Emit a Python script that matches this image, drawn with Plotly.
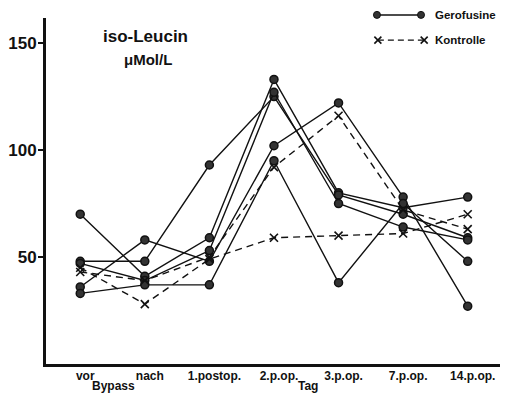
import plotly.graph_objects as go

categories = ["vor", "nach", "1.postop.", "2.p.op.", "3.p.op.", "7.p.op.", "14.p.op."]

# Gerofusine patients (solid lines, dots)
gero_1 = [70, 41, 59, 133, 80, 73, 78]
gero_2 = [48, 48, 93, 125, 79, 70, 59]
gero_3 = [47, 39, 53, 127, 75, 64, 58]
gero_4 = [36, 58, 48, 102, 122, 78, 27]
gero_5 = [33, 37, 37, 95, 38, 75, 48]

# Kontrolle patients (dashed lines, crosses)
kontr_1 = [45, 28, 49, 59, 60, 61, 70]
kontr_2 = [43, 39, 50, 92, 116, 72, 63]

y_ticks = [50, 100, 150]
y_tick_labels = [str(v) for v in y_ticks]

FONT = "Liberation Sans, Arial, sans-serif"
BLACK = "#111111"

fig = go.Figure()

for s in [gero_1, gero_2, gero_3, gero_4, gero_5]:
    fig.add_trace(go.Scatter(
        x=categories, y=s, mode="lines+markers",
        line=dict(color=BLACK, width=1.4),
        marker=dict(symbol="circle", size=8, color="#333333",
                    line=dict(color=BLACK, width=1.5)),
        showlegend=False, hoverinfo="skip"))

for s in [kontr_1, kontr_2]:
    fig.add_trace(go.Scatter(
        x=categories, y=s, mode="lines+markers",
        line=dict(color=BLACK, width=1.4, dash="7px,5px"),
        marker=dict(symbol="x-thin", size=8, color=BLACK,
                    line=dict(color=BLACK, width=1.6)),
        showlegend=False, hoverinfo="skip"))

shapes = []
# legend: Gerofusine sample
gy = 1.009
shapes.append(dict(type="line", xref="paper", yref="paper",
                   x0=0.729, x1=0.826, y0=gy, y1=gy,
                   line=dict(color=BLACK, width=1.5)))
for xa in (0.729, 0.826):
    shapes.append(dict(type="circle", xref="paper", yref="paper",
                       xsizemode="pixel", ysizemode="pixel",
                       xanchor=xa, yanchor=gy, x0=-3.5, x1=3.5, y0=-3.5, y1=3.5,
                       fillcolor="#333333", line=dict(color=BLACK, width=1)))
# legend: Kontrolle sample
ky = 0.936
shapes.append(dict(type="line", xref="paper", yref="paper",
                   x0=0.731, x1=0.833, y0=ky, y1=ky,
                   line=dict(color=BLACK, width=1.4, dash="6px,4px")))
for xa in (0.731, 0.833):
    for d in (1, -1):
        shapes.append(dict(type="line", xref="paper", yref="paper",
                           xsizemode="pixel", ysizemode="pixel",
                           xanchor=xa, yanchor=ky, x0=-3.5, x1=3.5,
                           y0=-3.5 * d, y1=3.5 * d,
                           line=dict(color=BLACK, width=1.6)))

annotations = [
    dict(text="iso-Leucin", x=0.22, y=0.947, xref="paper", yref="paper",
         showarrow=False, font=dict(family=FONT, size=17, color=BLACK, weight="bold"),
         xanchor="center", yanchor="middle"),
    dict(text="μMol/L", x=0.225, y=0.879, xref="paper", yref="paper",
         showarrow=False, font=dict(family=FONT, size=15, color=BLACK, weight="bold"),
         xanchor="center", yanchor="middle"),
    dict(text="Gerofusine", x=0.852, y=gy, xref="paper", yref="paper",
         showarrow=False, font=dict(family=FONT, size=11.5, color=BLACK, weight="bold"),
         xanchor="left", yanchor="middle"),
    dict(text="Kontrolle", x=0.852, y=ky, xref="paper", yref="paper",
         showarrow=False, font=dict(family=FONT, size=11.5, color=BLACK, weight="bold"),
         xanchor="left", yanchor="middle"),
    dict(text="Bypass", x=0.148, y=-0.064, xref="paper", yref="paper",
         showarrow=False, font=dict(family=FONT, size=12, color=BLACK, weight="bold"),
         xanchor="center", yanchor="middle"),
    dict(text="Tag", x=0.577, y=-0.064, xref="paper", yref="paper",
         showarrow=False, font=dict(family=FONT, size=12, color=BLACK, weight="bold"),
         xanchor="center", yanchor="middle"),
]

fig.update_layout(
    width=516, height=394,
    margin=dict(l=46, r=16, t=18, b=30),
    paper_bgcolor="white", plot_bgcolor="white",
    shapes=shapes, annotations=annotations,
    xaxis=dict(type="category", categoryorder="array", categoryarray=categories,
               range=[-0.53, 6.5], showgrid=False, zeroline=False, automargin=False,
               showline=True, linecolor=BLACK, linewidth=3, ticks="",
               tickfont=dict(family=FONT, size=12, color=BLACK, weight="bold"),
               ticklabelshift=5, ticklabelstandoff=-1),
    yaxis=dict(range=[0, 161.7], showgrid=False, zeroline=False, automargin=False,
               showline=True, linecolor=BLACK, linewidth=3,
               tickvals=y_ticks, ticktext=y_tick_labels,
               ticks="outside", ticklen=5, tickwidth=2, tickcolor=BLACK,
               ticklabelstandoff=-2,
               tickfont=dict(family=FONT, size=17, color=BLACK, weight="bold")),
)

fig.write_html("out.html")
